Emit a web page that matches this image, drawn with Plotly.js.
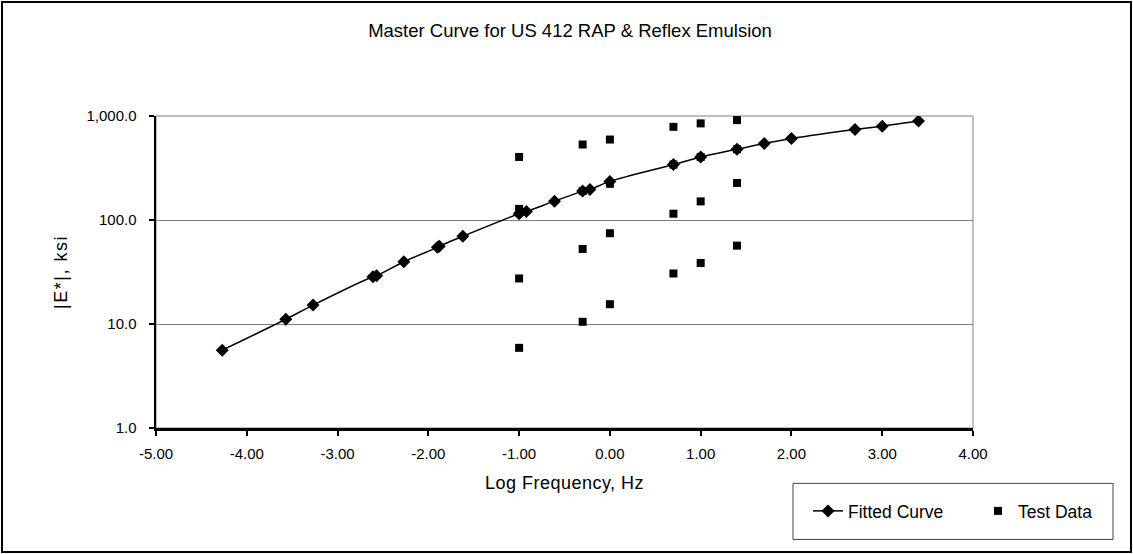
<!DOCTYPE html>
<html>
<head>
<meta charset="utf-8">
<script src="https://cdn.plot.ly/plotly-3.0.1.min.js"></script>
<style>
  html, body { margin: 0; padding: 0; background: #fff; }
  #wrap { position: relative; width: 1133px; height: 554px; }
  #chart { width: 1133px; height: 554px; }
  #frame { position: absolute; left: 1px; top: 1px; width: 1127px; height: 548px;
           border: 2px solid #000; pointer-events: none; }
  .ytitle { letter-spacing: 1.5px; }
  .xtitle { letter-spacing: 0.5px; }
</style>
</head>
<body>
<div id="wrap">
  <div id="chart"></div>
  <div id="frame"></div>
</div>
<script>
// Fitted master curve (log frequency, |E*| ksi)
const fitLogFreq = [-4.27, -3.57, -3.27, -2.61, -2.57, -2.27, -1.90, -1.88, -1.62, -1.00, -0.92,
                    -0.61, -0.30, -0.22, 0.00, 0.70, 1.00, 1.40, 1.70, 2.00, 2.70, 3.00, 3.40];
const fitModulus = [5.6, 11.1, 15.2, 28.5, 29.1, 39.7, 54.6, 55.9, 69.8, 114.8, 120.8,
                    151.8, 189.6, 197, 235, 341, 404, 479, 544, 608, 743, 799, 893];

// Test data
const testLogFreq = [-1, -1, -1, -1, -0.3, -0.3, -0.3, -0.3, 0, 0, 0, 0,
                     0.7, 0.7, 0.7, 0.7, 1, 1, 1, 1, 1.4, 1.4, 1.4, 1.4];
const testModulus = [404, 128, 27.4, 5.9, 532, 190, 52.7, 10.5, 594, 223, 74.6, 15.5,
                     787, 341, 115, 30.6, 849, 404, 151, 38.6, 913, 479, 227, 56.7];

// Tick labels
const xTickVals = [-5, -4, -3, -2, -1, 0, 1, 2, 3, 4];
const xTickText = ['-5.00', '-4.00', '-3.00', '-2.00', '-1.00', '0.00', '1.00', '2.00', '3.00', '4.00'];
const yTickVals = [1, 10, 100, 1000];
const yTickText = ['1.0', '10.0', '100.0', '1,000.0'];

const FONT = 'Liberation Sans, Arial, sans-serif';

// Plot area in pixels (for converting layout positions)
const W = 1133, H = 554;
const L = 156, R = 973, T = 116, B = 427.7;
const px2x = p => (p - L) / (R - L);
const px2y = p => (B - p) / (B - T);

const traces = [
  {
    x: fitLogFreq, y: fitModulus, name: 'Fitted Curve',
    type: 'scatter', mode: 'lines+markers',
    line: { color: '#000', width: 1.5, shape: 'spline', smoothing: 0.8 },
    marker: { symbol: 'diamond', size: 10, color: '#000' }
  },
  {
    x: testLogFreq, y: testModulus, name: 'Test Data',
    type: 'scatter', mode: 'markers',
    marker: { symbol: 'square', size: 8, color: '#000' }
  }
];

const layout = {
  width: W, height: H,
  margin: { l: L, r: W - R, t: T, b: H - B },
  paper_bgcolor: '#fff', plot_bgcolor: '#fff',
  font: { family: FONT, size: 15, color: '#000' },
  title: {
    text: 'Master Curve for US 412 RAP & Reflex Emulsion',
    font: { family: FONT, size: 18.5, color: '#000' },
    xref: 'container', x: 570 / W, xanchor: 'center',
    yref: 'container', y: 1 - 31 / H, yanchor: 'middle'
  },
  xaxis: {
    range: [-5, 4], tickmode: 'array', tickvals: xTickVals, ticktext: xTickText,
    showgrid: false, zeroline: false,
    showline: true, linecolor: '#000', linewidth: 2.5,
    ticks: 'outside', ticklen: 5, tickwidth: 2, tickcolor: '#000',
    ticklabelstandoff: 5,
    tickfont: { family: FONT, size: 15, color: '#000' },
    title: { text: 'Log Frequency, Hz', font: { family: FONT, size: 18, color: '#000' }, standoff: 20 },
    automargin: false,
    fixedrange: true
  },
  yaxis: {
    type: 'log', range: [0, 3], tickmode: 'array', tickvals: yTickVals, ticktext: yTickText,
    showgrid: true, gridcolor: '#808080', gridwidth: 1, zeroline: false,
    showline: true, linecolor: '#000', linewidth: 2.5,
    ticks: 'outside', ticklen: 5, tickwidth: 2, tickcolor: '#000',
    ticklabelstandoff: 9,
    tickfont: { family: FONT, size: 15, color: '#000' },
    title: { text: '|E*|, ksi', font: { family: FONT, size: 18, color: '#000' }, standoff: 14 },
    automargin: false,
    fixedrange: true
  },
  showlegend: true,
  legend: {
    orientation: 'h',
    xref: 'container', x: 808 / W, xanchor: 'left',
    yref: 'container', y: 1 - 511 / H, yanchor: 'middle',
    bgcolor: 'rgba(0,0,0,0)', borderwidth: 0,
    font: { family: FONT, size: 17.5, color: '#000' },
    entrywidthmode: 'pixels', entrywidth: 125
  },
  shapes: [
    { type: 'rect', xref: 'paper', yref: 'paper', x0: 0, x1: 1, y0: 0, y1: 1,
      line: { color: '#808080', width: 1 }, layer: 'below' },
    { type: 'rect', xref: 'paper', yref: 'paper',
      x0: px2x(793), x1: px2x(1113), y0: px2y(539), y1: px2y(483),
      line: { color: '#444', width: 1 }, fillcolor: 'rgba(0,0,0,0)' }
  ]
};

Plotly.newPlot('chart', traces, layout, { displayModeBar: false, staticPlot: true });
</script>
</body>
</html>
